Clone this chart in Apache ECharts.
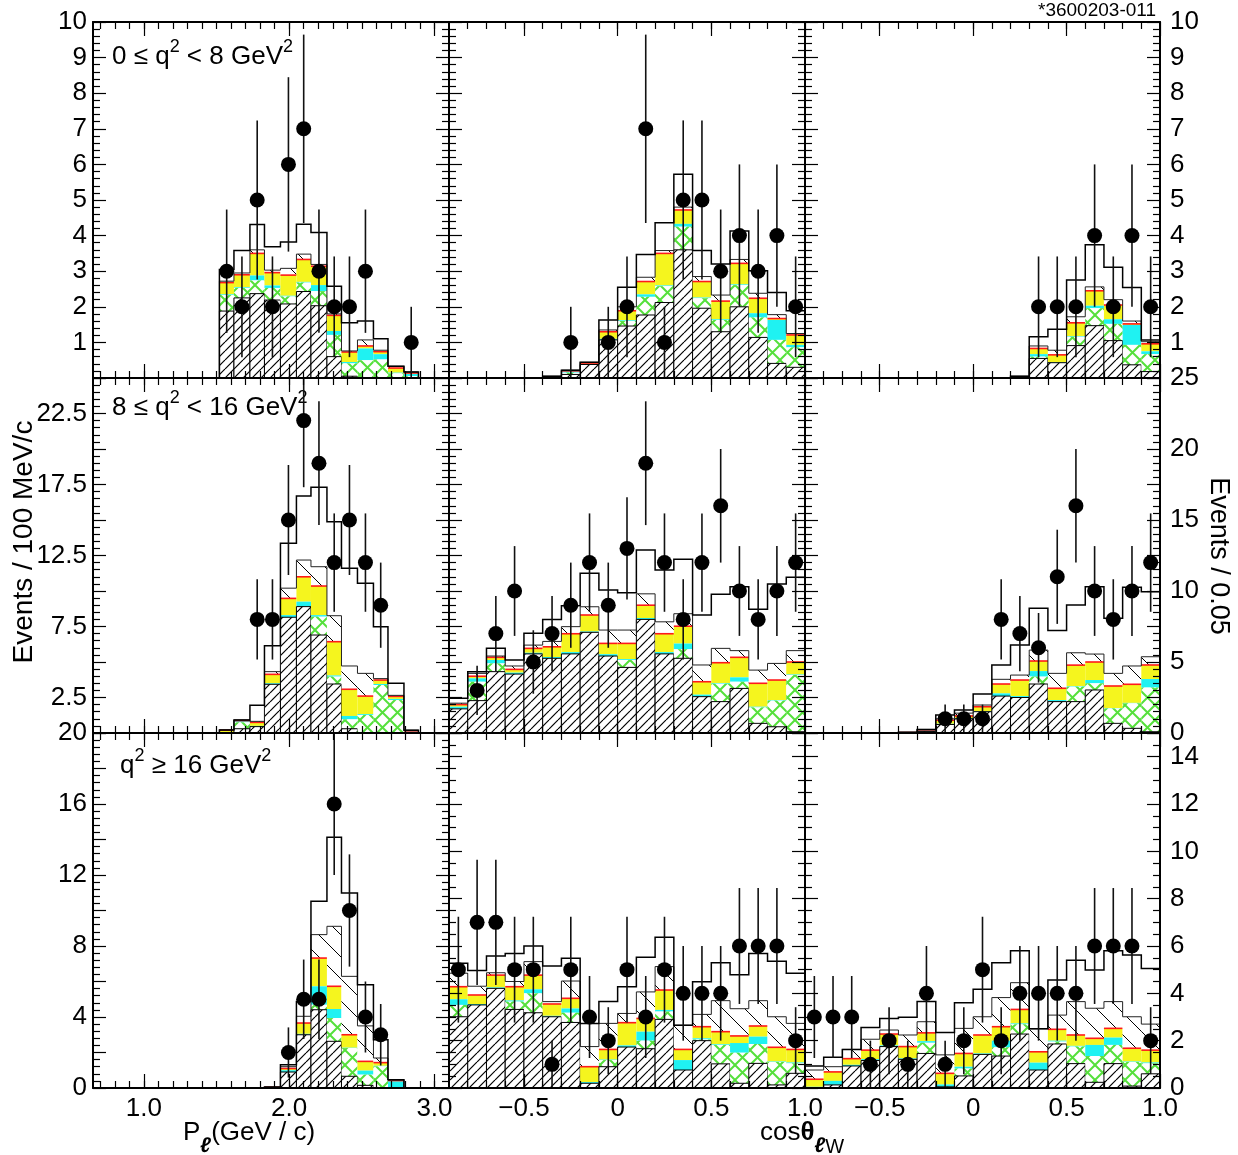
<!DOCTYPE html>
<html><head><meta charset="utf-8">
<script src="https://cdn.jsdelivr.net/npm/echarts@6/dist/echarts.min.js"></script>
<style>html,body{margin:0;padding:0;background:#fff}#c{width:1238px;height:1155px}</style>
</head><body><div id="c"></div>
<script>
// ---------- bin edges ----------
const pEdges   = [1.52,1.62,1.73,1.83,1.94,2.05,2.15,2.26,2.36,2.47,2.58,2.68,2.79,2.89];
const cosEdges = [-0.9,-0.8,-0.7,-0.6,-0.5,-0.4,-0.3,-0.2,-0.1,0,0.1,0.2,0.3,0.4,0.5,0.6,0.7,0.8,0.9,1.0];

// ---------- tick labels ----------
const pTickLabels   = [1.0, 2.0, 3.0];
const cosTickLabels = [-0.5, 0, 0.5, 1.0];

// ---------- row 1 : 0 <= q2 < 8 ----------
const r1c1_hatch  = [1.88,2.25,2.37,2.19,2.08,2.43,2.03,0.60,0.05,0,0,0,0];
const r1c1_green  = [2.33,2.53,2.74,2.53,2.29,2.68,2.44,1.21,0.41,0.50,0.52,0.13,0.05];
const r1c1_cyan   = [2.35,2.55,2.88,2.60,2.31,2.70,2.61,1.32,0.45,0.83,0.67,0.15,0.12];
const r1c1_yellow = [2.68,2.90,3.50,2.96,2.89,3.33,3.14,1.76,0.73,0.90,0.74,0.28,0.14];
const r1c1_inner  = [2.72,2.95,3.60,3.03,3.08,3.48,3.19,1.80,0.76,1.07,0.78,0.33,0.17];
const r1c1_total  = [3.05,3.58,4.31,3.69,3.82,4.32,4.09,2.58,1.55,1.60,1.10,0.33,0.17];
const r1c1_data   = [3,2,5,2,6,7,3,2,2,3,0,0,1];

const r1c2_hatch  = [0,0,0,0,0,0,0.10,0.38,1.07,1.46,1.77,2.12,3.60,1.96,1.30,2.00,1.14,0.41,0.30];
const r1c2_green  = [0,0,0,0,0,0,0.15,0.38,1.07,1.60,2.28,2.58,4.25,2.24,1.63,2.61,1.70,1.07,0.86];
const r1c2_cyan   = [0,0,0,0,0,0,0.20,0.40,1.10,1.62,2.35,2.60,4.33,2.26,1.65,2.63,1.82,1.63,0.93];
const r1c2_yellow = [0,0,0,0,0,0.02,0.20,0.42,1.30,1.89,2.71,3.50,4.72,2.71,2.16,3.22,2.24,1.67,1.21];
const r1c2_inner  = [0,0,0,0,0,0.05,0.22,0.44,1.35,2.00,2.83,3.58,4.80,2.85,2.33,3.33,2.38,1.78,1.25];
const r1c2_total  = [0,0,0,0,0,0.05,0.22,0.44,1.63,2.55,3.47,4.36,5.72,3.58,3.20,4.13,3.01,2.40,1.89];
const r1c2_data   = [0,0,0,0,0,0,1,0,1,2,7,1,5,5,3,4,3,4,2];

const r1c3_hatch  = [0,0,0,0,0,0,0,0,0,0,0,0,0.55,0.43,0.91,1.47,1.05,0.37,0.18];
const r1c3_green  = [0,0,0,0,0,0,0,0,0,0,0,0,0.60,0.43,1.16,1.96,1.52,0.93,0.67];
const r1c3_cyan   = [0,0,0,0,0,0,0,0,0,0,0,0,0.67,0.45,1.18,2.03,1.65,1.49,0.75];
const r1c3_yellow = [0,0,0,0,0,0,0,0,0,0,0,0.03,0.83,0.65,1.55,2.45,2.05,1.52,0.96];
const r1c3_inner  = [0,0,0,0,0,0,0,0,0,0,0,0.05,0.90,0.78,1.72,2.56,2.20,1.60,1.02];
const r1c3_total  = [0,0,0,0,0,0,0,0,0,0,0,0.05,1.16,1.37,2.75,3.74,3.11,2.54,1.07];
const r1c3_data   = [0,0,0,0,0,0,0,0,0,0,0,0,2,2,2,4,2,4,2];

// ---------- row 2 : 8 <= q2 < 16 ----------
const r2c1_hatch  = [0,0.30,0.45,3.43,8.15,8.90,6.90,3.45,0.30,0,0,0,0];
const r2c1_green  = [0,0.75,0.45,3.43,8.15,8.90,8.19,3.97,0.96,1.27,3.38,2.32,0];
const r2c1_cyan   = [0.05,0.85,0.50,3.50,8.30,9.25,8.30,4.05,1.20,1.33,3.45,2.40,0.12];
const r2c1_yellow = [0.20,0.87,0.75,4.13,9.48,11.00,10.35,6.43,3.08,2.60,3.73,2.58,0.15];
const r2c1_inner  = [0.22,0.92,0.82,4.32,10.20,12.18,11.71,8.26,4.72,4.20,3.83,2.65,0.20];
const r2c1_total  = [0.22,0.92,1.96,6.14,13.36,16.69,17.30,14.88,11.60,10.54,7.49,3.50,0.20];
const r2c1_data   = [0,0,8,8,15,22,19,12,15,12,9,0,0];

const r2c2_hatch  = [1.70,2.28,4.32,4.15,5.57,5.26,5.57,7.09,5.42,4.62,8.00,5.57,5.26,2.56,2.21,3.14,0.68,0.44,0.09];
const r2c2_green  = [1.70,3.61,4.90,4.15,5.57,5.26,5.57,7.09,5.42,5.14,8.00,5.57,5.90,2.56,3.47,3.61,1.80,2.28,4.08];
const r2c2_cyan   = [1.85,3.85,5.14,4.25,5.65,5.35,5.70,7.15,5.55,5.20,8.10,5.70,6.30,2.70,3.52,3.92,1.85,2.32,4.12];
const r2c2_yellow = [2.00,4.00,5.33,4.48,5.96,6.07,6.99,8.31,6.31,6.31,9.00,6.99,7.52,3.61,4.95,5.33,3.50,3.73,5.00];
const r2c2_inner  = [2.10,4.20,5.42,4.72,6.19,6.45,7.49,8.89,7.25,7.25,9.80,7.83,8.40,4.79,5.96,5.80,4.43,4.90,5.80];
const r2c2_total  = [2.44,4.32,5.96,5.14,7.02,8.00,8.97,11.25,10.07,9.88,12.89,11.48,12.23,8.31,9.77,10.30,8.71,10.49,10.96];
const r2c2_data   = [0,3,7,10,5,7,9,12,9,13,19,12,8,12,16,10,8,10,12];

const r2c3_hatch  = [0,0,0,0,0,0,0.10,0.60,1.00,1.50,2.60,2.50,3.45,2.21,2.21,3.03,0.68,0.33,0.09];
const r2c3_green  = [0,0,0,0,0,0,0.10,0.60,1.00,1.50,2.60,2.50,3.97,2.21,3.26,3.50,1.73,2.09,3.20];
const r2c3_cyan   = [0,0,0,0,0,0,0.20,0.65,1.05,1.55,2.79,2.60,4.36,2.32,3.30,3.73,1.76,2.12,3.80];
const r2c3_yellow = [0,0,0,0,0,0.03,0.22,0.90,1.20,1.85,3.45,3.73,5.07,3.15,4.78,5.00,3.31,3.43,4.79];
const r2c3_inner  = [0,0,0,0,0,0.05,0.25,1.00,1.40,1.97,3.78,4.08,5.84,4.20,5.65,5.56,4.20,4.72,5.37];
const r2c3_total  = [0,0,0,0,0,0.05,0.25,1.27,1.62,2.75,4.79,6.20,8.78,7.21,9.01,10.30,8.08,10.26,9.95];
const r2c3_data   = [0,0,0,0,0,0,0,1,1,1,8,7,6,11,16,10,8,10,12];

// ---------- row 3 : q2 >= 16 ----------
const r3c1_hatch  = [0,0,0,0,0.90,3.00,4.41,2.63,0.66,0.15,0,0,0];
const r3c1_green  = [0,0,0,0,0.90,3.00,4.69,3.94,2.25,0.75,1.22,0,0];
const r3c1_cyan   = [0,0,0,0.02,1.00,3.05,5.73,4.45,2.27,0.98,1.25,0.38,0];
const r3c1_yellow = [0,0,0,0.04,1.10,3.66,7.32,5.73,3.00,1.50,1.43,0.42,0];
const r3c1_inner  = [0,0,0,0.05,1.20,4.04,8.64,9.11,6.29,3.50,1.69,0.45,0];
const r3c1_total  = [0,0,0,0.05,1.31,4.88,10.52,14.12,10.99,5.82,2.72,0.47,0];
const r3c1_data   = [0,0,0,0,2,5,5,16,10,4,3,0,0];

const r3c2_hatch  = [3.01,3.51,4.21,3.32,3.18,3.01,2.77,0.20,0.90,1.73,1.66,2.90,0.76,2.00,1.02,0.20,1.04,0.13,0.62];
const r3c2_green  = [3.51,3.51,4.21,3.65,4.00,3.01,3.18,0.20,1.18,1.73,2.00,3.23,0.76,2.05,1.82,1.49,1.86,1.10,1.04];
const r3c2_cyan   = [3.75,3.55,4.25,3.70,4.17,3.05,3.36,0.25,1.20,1.80,2.38,3.30,1.18,2.10,1.85,1.90,2.17,1.12,1.08];
const r3c2_yellow = [4.28,3.93,4.77,4.28,4.77,3.55,3.79,0.90,1.63,2.76,2.94,4.14,1.63,2.59,2.38,2.20,2.62,1.72,1.63];
const r3c2_inner  = [4.85,4.30,4.87,4.50,5.34,3.65,4.52,1.75,2.73,3.15,4.06,5.13,2.65,3.11,3.69,3.35,3.69,3.01,2.73];
const r3c2_total  = [5.27,4.96,5.58,5.68,6.00,5.16,5.48,2.73,3.65,4.28,5.52,6.37,2.65,4.49,5.29,4.78,5.68,5.36,4.85];
const r3c2_data   = [5,7,7,5,5,1,5,3,2,5,3,5,4,4,4,6,6,6,2];

const r3c3_hatch  = [0,0.13,0.93,1.16,1.75,1.21,1.46,0.05,0.51,1.42,1.35,2.28,0.76,1.86,1.03,0.24,1.03,0.08,0.60];
const r3c3_green  = [0,0.13,0.93,1.16,1.75,1.21,1.91,0.05,0.82,1.42,1.72,2.69,0.76,1.96,1.75,1.35,1.82,1.10,1.04];
const r3c3_cyan   = [0.05,0.30,0.98,1.22,1.80,1.25,1.98,0.15,0.90,1.46,2.00,2.73,1.07,2.00,1.78,1.82,2.13,1.12,1.08];
const r3c3_yellow = [0.37,0.68,1.24,1.60,2.28,1.75,2.33,0.62,1.46,2.24,2.59,3.32,1.53,2.48,2.24,2.10,2.52,1.68,1.60];
const r3c3_inner  = [0.76,0.90,1.63,2.06,2.45,2.24,2.80,1.40,2.52,3.01,3.82,4.45,2.50,3.08,3.65,3.37,3.65,3.01,2.70];
const r3c3_total  = [0.93,1.30,1.63,2.56,2.94,2.99,3.65,2.34,3.60,4.17,5.29,5.80,2.50,4.56,5.40,4.99,5.80,5.62,5.05];
const r3c3_data   = [3,3,3,1,2,1,4,1,2,5,2,4,4,4,4,6,6,6,2];

// ---------- layout / styling ----------
const FONT = "'Liberation Sans', Arial, Helvetica, sans-serif";
const colLeft = [93, 449, 805], colWidth = [356, 356, 355];
const rowTop = [22, 378, 733], rowHeight = [356, 355, 355];
const YELLOW = '#f5f51e', CYAN = '#1ff2f2', GREEN = '#55e03c', RED = '#ff1a1a';

function mkPattern(size, dirs, color, lw) {
  const c = document.createElement('canvas');
  c.width = c.height = size;
  const g = c.getContext('2d');
  g.fillStyle = '#fff'; g.fillRect(0, 0, size, size);
  g.strokeStyle = color; g.lineWidth = lw;
  dirs.forEach(d => {
    for (let k = -1; k <= 1; k++) {
      g.beginPath();
      if (d === '/') { g.moveTo(k * size, size); g.lineTo(k * size + size, 0); }
      else { g.moveTo(k * size, 0); g.lineTo(k * size + size, size); }
      g.stroke();
    }
  });
  return c;
}
const patHatch = { image: mkPattern(9, ['/'], '#000', 1.2), repeat: 'repeat' };
const patCross = { image: mkPattern(15, ['/', '\\'], GREEN, 2), repeat: 'repeat' };
const patBack  = { image: mkPattern(22, ['\\'], '#000', 1), repeat: 'repeat' };

const panels = [
  { r:0, c:0, e:pEdges,   h:r1c1_hatch, g:r1c1_green, cy:r1c1_cyan, y:r1c1_yellow, i:r1c1_inner, t:r1c1_total, d:r1c1_data },
  { r:0, c:1, e:cosEdges, h:r1c2_hatch, g:r1c2_green, cy:r1c2_cyan, y:r1c2_yellow, i:r1c2_inner, t:r1c2_total, d:r1c2_data },
  { r:0, c:2, e:cosEdges, h:r1c3_hatch, g:r1c3_green, cy:r1c3_cyan, y:r1c3_yellow, i:r1c3_inner, t:r1c3_total, d:r1c3_data },
  { r:1, c:0, e:pEdges,   h:r2c1_hatch, g:r2c1_green, cy:r2c1_cyan, y:r2c1_yellow, i:r2c1_inner, t:r2c1_total, d:r2c1_data },
  { r:1, c:1, e:cosEdges, h:r2c2_hatch, g:r2c2_green, cy:r2c2_cyan, y:r2c2_yellow, i:r2c2_inner, t:r2c2_total, d:r2c2_data },
  { r:1, c:2, e:cosEdges, h:r2c3_hatch, g:r2c3_green, cy:r2c3_cyan, y:r2c3_yellow, i:r2c3_inner, t:r2c3_total, d:r2c3_data },
  { r:2, c:0, e:pEdges,   h:r3c1_hatch, g:r3c1_green, cy:r3c1_cyan, y:r3c1_yellow, i:r3c1_inner, t:r3c1_total, d:r3c1_data },
  { r:2, c:1, e:cosEdges, h:r3c2_hatch, g:r3c2_green, cy:r3c2_cyan, y:r3c2_yellow, i:r3c2_inner, t:r3c2_total, d:r3c2_data },
  { r:2, c:2, e:cosEdges, h:r3c3_hatch, g:r3c3_green, cy:r3c3_cyan, y:r3c3_yellow, i:r3c3_inner, t:r3c3_total, d:r3c3_data }
];

function yConf(r, c) {
  if (r === 0) return { max: 10, interval: 1, minor: 5,
    left: v => v > 0.001 ? String(Math.round(v)) : '', right: v => v > 0.001 ? String(Math.round(v)) : '' };
  if (r === 1) return { max: 25, interval: 2.5, minor: 5,
    left: v => { const k = Math.round(v / 2.5); return k % 2 === 1 ? v.toFixed(1) : ''; },
    right: v => { const k = Math.round(v / 2.5); return k % 2 === 0 ? String(Math.round(v)) : ''; } };
  if (c === 0) return { max: 20, interval: 2, minor: 5,
    left: v => Math.round(v) % 4 === 0 ? String(Math.round(v)) : '', right: v => '' };
  return { max: 15, interval: 2, minor: 4,
    left: v => '', right: v => (v < 14.5 && Math.round(v) % 2 === 0) ? String(Math.round(v)) : '' };
}

const tickLine = { color: '#000', width: 1.2 };
const labelBase = { fontSize: 26, color: '#000', fontFamily: FONT };
const grids = [], xAxes = [], yAxes = [], series = [];
const pMinor = [], cosMinor = [];
for (let k = 7; k <= 30; k++) pMinor.push(k / 10);
for (let k = -8; k <= 9; k++) cosMinor.push(k / 10);

panels.forEach((P, gi) => {
  const { r, c } = P;
  grids.push({ left: colLeft[c], top: rowTop[r], width: colWidth[c], height: rowHeight[r],
    containLabel: false, outerBoundsMode: 'none' });
  const isP = c === 0;
  const xmin = isP ? 0.65 : -0.9, xmax = isP ? 3.1 : 1.0;
  const major = isP ? pTickLabels : cosTickLabels;
  const minor = isP ? pMinor : cosMinor;
  const fmt = isP ? (v => v.toFixed(1))
                  : (v => Math.abs(v) < 1e-9 ? '0' : (v < 0 ? '\u2212' : '') + Math.abs(v).toFixed(1));
  const xb = { type: 'value', gridIndex: gi, min: xmin, max: xmax, splitLine: { show: false }, z: 10 };
  ['bottom', 'top'].forEach(pos => {
    xAxes.push(Object.assign({}, xb, { position: pos,
      axisLine: { show: true, onZero: false, lineStyle: { color: '#000', width: 2 } },
      axisTick: { show: true, inside: true, length: 14, customValues: major, lineStyle: tickLine },
      axisLabel: Object.assign({ show: pos === 'bottom' && r === 2, customValues: major, formatter: fmt, margin: 8 }, labelBase)
    }));
    xAxes.push(Object.assign({}, xb, { position: pos,
      axisLine: { show: false, onZero: false },
      axisTick: { show: true, inside: true, length: 7, customValues: minor, lineStyle: tickLine },
      axisLabel: { show: false }
    }));
  });
  const yc = yConf(r, c);
  ['left', 'right'].forEach(pos => {
    const showLab = (pos === 'left' && c === 0) || (pos === 'right' && c === 2);
    yAxes.push({ type: 'value', gridIndex: gi, position: pos, min: 0, max: yc.max, interval: yc.interval, z: 10,
      splitLine: { show: false },
      axisLine: { show: true, onZero: false, lineStyle: { color: '#000', width: 2 } },
      axisTick: { show: true, inside: true, length: 13, lineStyle: tickLine },
      minorTick: { show: true, splitNumber: yc.minor, length: 7, lineStyle: tickLine },
      axisLabel: Object.assign({ show: showLab, formatter: pos === 'left' ? yc.left : yc.right,
        margin: pos === 'left' ? 6 : 10 }, labelBase)
    });
  });
  const xi = gi * 4, yi = gi * 2;
  const nb = P.e.length - 1;
  const lev = i => {
    const h = P.h[i], g = Math.max(h, P.g[i]), cy = Math.max(g, P.cy[i]), y = Math.max(cy, P.y[i]);
    const inn = Math.max(y, P.i[i]), t = Math.max(inn, P.t[i]);
    return { h, g, cy, y, inn, t };
  };
  // stacked components
  series.push({ type: 'custom', xAxisIndex: xi, yAxisIndex: yi, z: 2, clip: true, silent: true,
    data: P.e.slice(0, nb).map((_, i) => [i]),
    renderItem: (params, api) => {
      const i = api.value(0);
      const x0 = P.e[i], x1 = P.e[i + 1];
      const L = lev(i);
      const ch = [];
      const rect = (a, b, style) => {
        if (b - a <= 0.0001) return;
        const p0 = api.coord([x0, b]), p1 = api.coord([x1, a]);
        ch.push({ type: 'rect', shape: { x: p0[0], y: p0[1], width: p1[0] - p0[0], height: p1[1] - p0[1] }, style });
      };
      rect(L.y, L.inn, { fill: patBack });
      rect(L.cy, L.y, { fill: YELLOW });
      rect(L.g, L.cy, { fill: CYAN });
      rect(L.h, L.g, { fill: patCross });
      rect(0, L.h, { fill: patHatch, stroke: '#000', lineWidth: 1 });
      if (L.y > 0.0001) {
        const a = api.coord([x0, L.y]), b = api.coord([x1, L.y]);
        ch.push({ type: 'line', shape: { x1: a[0], y1: a[1], x2: b[0], y2: b[1] }, style: { stroke: RED, lineWidth: 1.6 } });
      }
      return { type: 'group', children: ch };
    }
  });
  // step outlines (inner component top and total)
  series.push({ type: 'custom', xAxisIndex: xi, yAxisIndex: yi, z: 3, clip: true, silent: true,
    data: [[0]],
    renderItem: (params, api) => {
      const step = key => {
        const pts = [api.coord([P.e[0], 0])];
        for (let i = 0; i < nb; i++) {
          const v = lev(i)[key];
          pts.push(api.coord([P.e[i], v]));
          pts.push(api.coord([P.e[i + 1], v]));
        }
        pts.push(api.coord([P.e[nb], 0]));
        return pts;
      };
      return { type: 'group', children: [
        { type: 'polyline', shape: { points: step('inn') }, style: { stroke: '#222', lineWidth: 1, fill: null } },
        { type: 'polyline', shape: { points: step('t') }, style: { stroke: '#000', lineWidth: 1.5, fill: null } }
      ] };
    }
  });
  // data points with error bars
  const pts = [];
  P.d.forEach((v, i) => { if (v > 0) pts.push([(P.e[i] + P.e[i + 1]) / 2, v]); });
  series.push({ type: 'custom', xAxisIndex: xi, yAxisIndex: yi, z: 4, clip: true, silent: true,
    data: pts,
    renderItem: (params, api) => {
      const x = api.value(0), v = api.value(1), e = Math.sqrt(v);
      const a = api.coord([x, Math.max(0, v - e)]), b = api.coord([x, Math.min(yc.max, v + e)]);
      return { type: 'line', shape: { x1: a[0], y1: a[1], x2: b[0], y2: b[1] }, style: { stroke: '#111', lineWidth: 1.6 } };
    }
  });
  series.push({ type: 'scatter', xAxisIndex: xi, yAxisIndex: yi, z: 5, silent: true,
    symbol: 'circle', symbolSize: 15, itemStyle: { color: '#000', opacity: 1 }, data: pts });
});

const supRich = {
  b: { fontSize: 26, lineHeight: 26, verticalAlign: 'bottom', fontFamily: FONT, color: '#000' },
  s: { fontSize: 18, lineHeight: 18, verticalAlign: 'top', fontFamily: FONT, color: '#000' },
  p: { fontSize: 2, lineHeight: 32, fontFamily: FONT }
};
const subRich = {
  a: { fontSize: 26, lineHeight: 26, verticalAlign: 'top', fontFamily: FONT, color: '#000' },
  t: { fontSize: 26, lineHeight: 26, verticalAlign: 'top', fontFamily: FONT, fontWeight: 'bold', color: '#000' },
  s: { fontSize: 21, lineHeight: 21, verticalAlign: 'bottom', fontFamily: FONT, fontWeight: 'bold', fontStyle: 'italic', color: '#000' },
  w: { fontSize: 20, lineHeight: 20, verticalAlign: 'bottom', fontFamily: FONT, color: '#000' },
  p: { fontSize: 2, lineHeight: 37, fontFamily: FONT }
};
const graphic = [
  { type: 'text', x: 1156, y: 11, style: { text: '*3600203-011', fontSize: 19, fontFamily: FONT, fill: '#000', align: 'right', verticalAlign: 'middle' } },
  { type: 'text', x: 112, y: 38, style: { text: '{b|0 \u2264 q}{s|2}{b| < 8 GeV}{s|2}{p| }', rich: supRich, verticalAlign: 'top' } },
  { type: 'text', x: 112, y: 389, style: { text: '{b|8 \u2264 q}{s|2}{b| < 16 GeV}{s|2}{p| }', rich: supRich, verticalAlign: 'top' } },
  { type: 'text', x: 120, y: 747, style: { text: '{b|q}{s|2}{b| \u2265 16 GeV}{s|2}{p| }', rich: supRich, verticalAlign: 'top' } },
  { type: 'text', x: 24, y: 542, rotation: Math.PI / 2, style: { text: 'Events / 100 MeV/c', fontSize: 28, fontFamily: FONT, fill: '#000', align: 'center', verticalAlign: 'middle' } },
  { type: 'text', x: 1218, y: 556, rotation: -Math.PI / 2, style: { text: 'Events / 0.05', fontSize: 27, fontFamily: FONT, fill: '#000', align: 'center', verticalAlign: 'middle' } },
  { type: 'text', x: 183, y: 1120, style: { text: '{a|P}{s|\u2113}{a|(GeV / c)}{p| }', rich: subRich, verticalAlign: 'top' } },
  { type: 'text', x: 760, y: 1120, style: { text: '{a|cos}{t|\u03b8}{s|\u2113}{w|W}{p| }', rich: subRich, verticalAlign: 'top' } }
];

const chart = echarts.init(document.getElementById('c'), null, { renderer: 'canvas' });
chart.setOption({
  animation: false,
  backgroundColor: '#fff',
  grid: grids, xAxis: xAxes, yAxis: yAxes, series, graphic
});
</script></body></html>
